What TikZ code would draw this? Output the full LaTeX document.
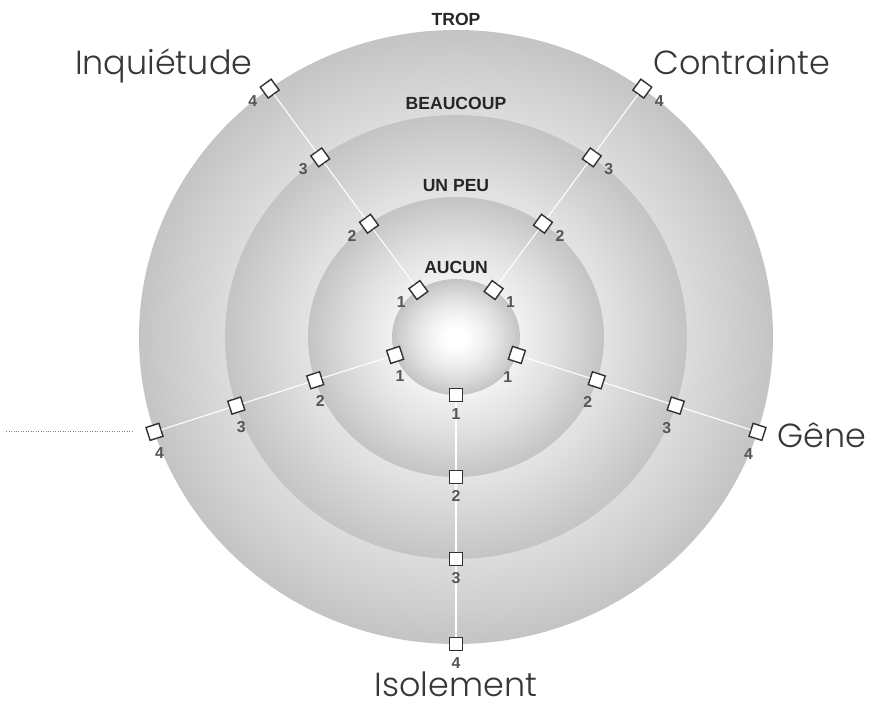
\documentclass[tikz,border=0pt]{standalone}
\usepackage{fontspec}
\setmainfont{Liberation Sans}
\newfontfamily\axisfont{Poppins Light}
\usepackage{tikz}
\usetikzlibrary{positioning,calc}
\definecolor{ringdark}{RGB}{196,196,196}
\definecolor{ringmid}{RGB}{224,224,224}
\definecolor{ringlight}{RGB}{240,240,240}
\definecolor{markgray}{RGB}{50,50,50}
\definecolor{digitgray}{RGB}{85,85,85}
\definecolor{textgray}{RGB}{55,55,55}
\pgfdeclareradialshading{ringshade}{\pgfpointorigin}{color(0bp)=(white); color(4bp)=(white); color(11bp)=(ringlight); color(17bp)=(ringmid); color(25bp)=(ringdark); color(50bp)=(ringdark)}
\tikzset{
  marker-node/.style={draw=markgray, line width=0.8pt, fill=white,
    minimum size=2.7mm, inner sep=0pt},
  digit-label/.style={font=\fontsize{9}{10}\selectfont\bfseries, text=digitgray, inner sep=0pt},
  ring-label/.style={font=\fontsize{10}{11}\selectfont\bfseries, text=black!85, inner sep=0pt},
  axis-label/.style={font=\axisfont\fontsize{19}{21}\selectfont, text=textgray, inner sep=0pt},
  spoke-line/.style={draw=white, line width=0.6pt},
  leader-line/.style={draw=gray, line width=0.6pt, dash pattern=on 0.5pt off 0.9pt}
}

\begin{document}
\begin{tikzpicture}[x=0.2mm, y=0.2mm]
\useasboundingbox (-456,-371) rectangle (418,337);

% Nested discs, outer first
\foreach \xr/\yr in {317/307, 231/222, 148/140, 64/58}
  \shade[shading=ringshade] (0,0) ellipse [x radius=\xr, y radius=\yr];

% Level names above each disc
\node[ring-label] (trop) at (0,318) {TROP};
\node[ring-label] (beaucoup) at (0,234) {BEAUCOUP};
\node[ring-label] (unpeu) at (0,151) {UN PEU};
\node[ring-label] (aucun) at (0,70) {AUCUN};

% Five axes: markers on the disc edges, spokes, then digits
\foreach \ax/\ang/\dx/\dy in {1/126/-17/-12, 2/54/17/-12, 3/-18/-9/-22, 4/-90/0/-19, 5/198/5/-21}{
  \foreach \lv/\xr/\yr in {1/64/58, 2/148/140, 3/231/222, 4/317/307}
    \node[marker-node, rotate=\ang] (m\ax-\lv) at ({\xr*cos(\ang)}, {\yr*sin(\ang)}) {};
  \draw[spoke-line] (m\ax-1) -- (m\ax-2) -- (m\ax-3) -- (m\ax-4);
  \foreach \lv in {1,...,4}
    \node[digit-label] (d\ax-\lv) at ([shift={(\dx,\dy)}]m\ax-\lv.center) {\lv};
}

% Axis names
\node[axis-label, anchor=base east] (inquietude) at ([shift={(-17,14)}]m1-4.center) {Inquiétude};
\node[axis-label, anchor=base west] (contrainte) at ([shift={(11,14)}]m2-4.center) {Contrainte};
\node[axis-label, anchor=base west] (gene) at ([shift={(20,-16)}]m3-4.center) {Gêne};
\node[axis-label, anchor=base] (isolement) at ([shift={(0,-52)}]m4-4.center) {Isolement};

% Dotted leader off the fifth axis
\coordinate (leftend) at (-451,-98);
\draw[leader-line, shorten <=4.4mm] (m5-4.center) -- (m5-4.center -| leftend);
\end{tikzpicture}
\end{document}
